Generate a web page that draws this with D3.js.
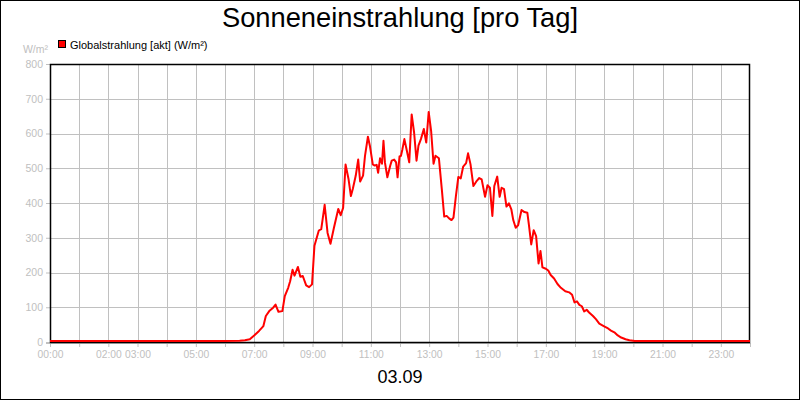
<!DOCTYPE html>
<html>
<head>
<meta charset="utf-8">
<script src="https://cdn.jsdelivr.net/npm/d3@7"></script>
<style>
    body { margin: 0; background: #fff; }
    svg { display: block; font-family: "Liberation Sans", Arial, sans-serif; }
</style>
</head>
<body>
<svg id="chart" width="800" height="400"></svg>
<script>
// Globalstrahlung 03.09, readings (time of day, W/m²)
const times = [
    "00:00", "06:00", "06:30", "06:41", "06:51", "07:00", "07:10", "07:19", "07:24", "07:31",
    "07:39", "07:44", "07:50", "07:58", "08:03", "08:10", "08:14", "08:19", "08:23", "08:30",
    "08:35", "08:40", "08:47", "08:53", "08:59", "09:04", "09:13", "09:18", "09:25", "09:31",
    "09:37", "09:44", "09:53", "09:58", "10:03", "10:08", "10:14", "10:19", "10:23", "10:29",
    "10:34", "10:38", "10:44", "10:48", "10:54", "10:58", "11:04", "11:08", "11:12", "11:15",
    "11:19", "11:23", "11:26", "11:29", "11:34", "11:40", "11:43", "11:48", "11:52", "11:55",
    "11:59", "12:02", "12:05", "12:09", "12:14", "12:19", "12:24", "12:29", "12:34", "12:38",
    "12:43", "12:49", "12:54", "12:59", "13:04", "13:09", "13:13", "13:20", "13:26", "13:31",
    "13:36", "13:41", "13:46", "13:50", "13:55", "14:00", "14:05", "14:10", "14:16", "14:20",
    "14:25", "14:31", "14:38", "14:43", "14:48", "14:55", "15:00", "15:05", "15:10", "15:14",
    "15:20", "15:25", "15:29", "15:34", "15:39", "15:44", "15:49", "15:53", "15:58", "16:03",
    "16:10", "16:16", "16:22", "16:25", "16:30", "16:35", "16:40", "16:45", "16:49", "16:53",
    "17:00", "17:05", "17:10", "17:17", "17:24", "17:31", "17:40", "17:48", "17:54", "17:59",
    "18:04", "18:09", "18:14", "18:19", "18:24", "18:29", "18:37", "18:43", "18:50", "18:59",
    "19:08", "19:14", "19:22", "19:28", "19:35", "19:44", "19:52", "20:03", "24:00"
];
const globalstrahlung = [
    0, 0, 1, 2, 5, 16, 29, 43, 72, 86,
    96, 105, 84, 86, 129, 153, 172, 205, 188, 213,
    185, 187, 160, 155, 163, 274, 318, 322, 392, 311,
    280, 325, 380, 362, 383, 508, 467, 417, 438, 476,
    522, 459, 476, 533, 588, 562, 508, 505, 507, 484,
    526, 510, 576, 514, 471, 505, 519, 522, 514, 471,
    531, 533, 552, 581, 548, 514, 652, 600, 519, 562,
    581, 610, 571, 659, 605, 510, 533, 526, 437, 358,
    360, 353, 348, 355, 417, 472, 468, 502, 512, 540,
    509, 446, 461, 469, 465, 415, 448, 441, 360, 446,
    473, 415, 441, 437, 387, 396, 379, 348, 326, 333,
    377, 371, 369, 336, 278, 319, 302, 223, 259, 212,
    208, 203, 190, 180, 164, 153, 143, 140, 133, 111,
    114, 104, 100, 85, 90, 82, 72, 63, 50, 43,
    36, 30, 24, 16, 10, 5, 2, 0, 0
];
const xTickHours = [0, 2, 3, 5, 7, 9, 11, 13, 15, 17, 19, 21, 23];
const yTicks = [0, 100, 200, 300, 400, 500, 600, 700, 800];

const title = "Sonneneinstrahlung [pro Tag]";
const seriesName = "Globalstrahlung [akt] (W/m²)";
const unit = "W/m²";
const dayLabel = "03.09";

const W = 800, H = 400;
const plot = { left: 50, top: 64, right: 750, bottom: 342 };
const grey = "#c0c0c0";
const labelFont = "Liberation Sans, Arial, sans-serif";

const svg = d3.select("#chart");

function toHours(s) {
    const [h, m] = s.split(":").map(Number);
    return h + m / 60;
}
const data = times.map((t, i) => ({ h: toHours(t), v: globalstrahlung[i] }));

const x = d3.scaleLinear().domain([0, 24]).range([plot.left, plot.right]);
const y = d3.scaleLinear().domain([0, 800]).range([plot.bottom, plot.top]);

// outer frame
svg.append("rect")
    .attr("x", 0.5).attr("y", 0.5)
    .attr("width", W - 1).attr("height", H - 1)
    .attr("fill", "#fff").attr("stroke", "#000");

// title
svg.append("text")
    .attr("x", W / 2).attr("y", 27)
    .attr("text-anchor", "middle")
    .attr("font-size", 27.3)
    .attr("fill", "#000")
    .text(title);

// legend
svg.append("rect")
    .attr("x", 58.5).attr("y", 40.5)
    .attr("width", 7).attr("height", 7)
    .attr("fill", "#ff0000").attr("stroke", "#000");
svg.append("text")
    .attr("x", 70).attr("y", 48.5)
    .attr("font-size", 11)
    .attr("fill", "#000")
    .text(seriesName);

// unit
svg.append("text")
    .attr("x", 48).attr("y", 52.5)
    .attr("text-anchor", "end")
    .attr("font-size", 10.5)
    .attr("fill", grey)
    .text(unit);

// grid
const hours = d3.range(0, 25);
svg.append("g")
    .selectAll("line")
    .data(hours.slice(1, -1))
    .join("line")
    .attr("x1", d => Math.round(x(d)) + 0.5).attr("x2", d => Math.round(x(d)) + 0.5)
    .attr("y1", plot.top).attr("y2", plot.bottom)
    .attr("stroke", grey);
svg.append("g")
    .selectAll("line")
    .data(yTicks.slice(1, -1))
    .join("line")
    .attr("x1", plot.left).attr("x2", plot.right)
    .attr("y1", d => Math.round(y(d)) + 0.5).attr("y2", d => Math.round(y(d)) + 0.5)
    .attr("stroke", grey);

// y axis
const yAxis = d3.axisLeft(y)
    .tickValues(yTicks)
    .tickSize(4)
    .tickPadding(3)
    .tickFormat(d3.format("d"));
const gy = svg.append("g")
    .attr("transform", `translate(${plot.left},0)`)
    .call(yAxis);
gy.select(".domain").remove();
gy.selectAll(".tick line").attr("stroke", grey);
gy.selectAll(".tick text")
    .attr("fill", grey)
    .attr("font-size", 10.5)
    .attr("font-family", labelFont);

// x axis
const xAxis = d3.axisBottom(x)
    .tickValues(hours)
    .tickSize(4)
    .tickPadding(4)
    .tickFormat(d => xTickHours.includes(d) ? String(d).padStart(2, "0") + ":00" : "");
const gx = svg.append("g")
    .attr("transform", `translate(0,${plot.bottom + 1})`)
    .call(xAxis);
gx.select(".domain").attr("stroke", grey).attr("d", `M${plot.left - 4},0.5H${plot.right}`);
gx.selectAll(".tick line").attr("stroke", grey);
gx.selectAll(".tick text")
    .attr("fill", grey)
    .attr("font-size", 10.3)
    .attr("font-family", labelFont);

// plot frame
svg.append("rect")
    .attr("x", plot.left + 0.5).attr("y", plot.top + 0.5)
    .attr("width", plot.right - plot.left - 1)
    .attr("height", plot.bottom - plot.top)
    .attr("fill", "none")
    .attr("stroke", "#000")
    .attr("stroke-width", 1.5);

// series
const line = d3.line()
    .x(d => x(d.h))
    .y(d => y(d.v) - 1);
svg.append("path")
    .datum(data)
    .attr("d", line)
    .attr("fill", "none")
    .attr("stroke", "#ff0000")
    .attr("stroke-width", 2)
    .attr("stroke-linejoin", "round");

// day label
svg.append("text")
    .attr("x", W / 2).attr("y", 383)
    .attr("text-anchor", "middle")
    .attr("font-size", 18)
    .attr("fill", "#000")
    .text(dayLabel);
</script>
</body>
</html>
